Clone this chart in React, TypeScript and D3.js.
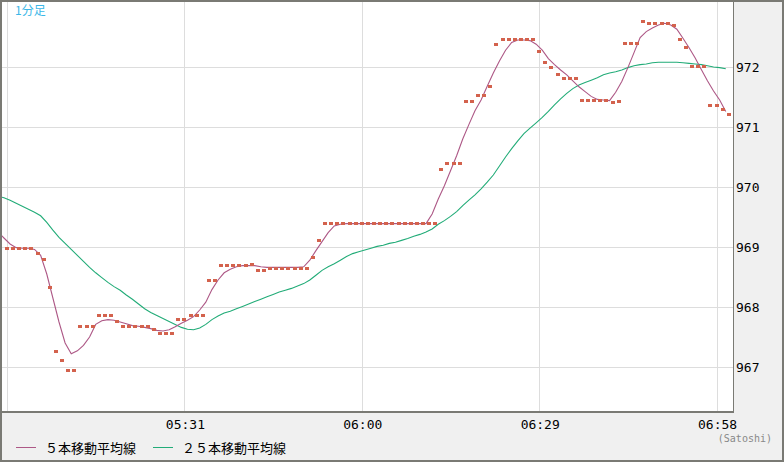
import * as d3 from "d3";

const W = 784;
const H = 462;

// minutes since midnight of the first bar (05:02)
const START = 302;

const prices = [
  968.98, 968.98, 968.98, 968.98, 968.98, 968.9, 968.79, 968.33, 967.26, 967.11,
  966.94, 966.94, 967.67, 967.67, 967.67, 967.86, 967.86, 967.86, 967.76, 967.68,
  967.68, 967.68, 967.68, 967.68, 967.63, 967.56, 967.56, 967.56, 967.79, 967.79,
  967.86, 967.86, 967.86, 968.44, 968.44, 968.69, 968.69, 968.69, 968.69, 968.69,
  968.71, 968.61, 968.61, 968.64, 968.64, 968.64, 968.64, 968.64, 968.64, 968.64,
  968.82, 969.1, 969.39, 969.39, 969.39, 969.39, 969.39, 969.39, 969.39, 969.39,
  969.39, 969.39, 969.39, 969.39, 969.39, 969.39, 969.39, 969.39, 969.39, 969.39,
  969.39, 970.3, 970.39, 970.39, 970.39, 971.43, 971.43, 971.53, 971.53, 971.68,
  972.38, 972.45, 972.45, 972.45, 972.45, 972.45, 972.45, 972.26, 972.07, 972.0,
  971.88, 971.81, 971.81, 971.81, 971.44, 971.44, 971.44, 971.44, 971.44, 971.41,
  971.43, 972.39, 972.39, 972.39, 972.76, 972.73, 972.73, 972.73, 972.73, 972.69,
  972.46, 972.33, 972.01, 972.01, 972.01, 971.35, 971.35, 971.3, 971.2,
];

// moving averages, first value belongs to 05:01
const ma5 = [
  969.25, 969.15, 969.05, 968.99, 968.98, 968.98, 968.96, 968.86, 968.55, 968.15,
  967.75, 967.4, 967.22, 967.27, 967.36, 967.5, 967.71, 967.77, 967.79, 967.78,
  967.75, 967.72, 967.69, 967.68, 967.66, 967.64, 967.61, 967.6, 967.62, 967.67,
  967.73, 967.78, 967.84, 967.95, 968.08, 968.29, 968.45, 968.57, 968.63, 968.67,
  968.69, 968.69, 968.69, 968.67, 968.66, 968.66, 968.66, 968.66, 968.66, 968.66,
  968.67, 968.78, 968.94, 969.09, 969.24, 969.35, 969.38, 969.39, 969.39, 969.39,
  969.39, 969.39, 969.39, 969.39, 969.39, 969.39, 969.39, 969.39, 969.39, 969.39,
  969.39, 969.55, 969.8, 970.02, 970.27, 970.52, 970.8, 971.04, 971.27, 971.45,
  971.68, 971.9, 972.1, 972.28, 972.41, 972.45, 972.45, 972.44, 972.38, 972.28,
  972.14, 972.04, 971.95, 971.87, 971.77, 971.67, 971.59, 971.51, 971.46, 971.45,
  971.44, 971.58, 971.76, 971.99, 972.24, 972.49, 972.59, 972.65, 972.7, 972.73,
  972.7, 972.63, 972.48, 972.32, 972.15, 971.96, 971.77, 971.6, 971.45, 971.26,
];

const ma25 = [
  969.85, 969.82, 969.78, 969.73, 969.68, 969.63, 969.58, 969.52, 969.41, 969.28,
  969.16, 969.06, 968.96, 968.86, 968.76, 968.66, 968.57, 968.49, 968.41, 968.34,
  968.28, 968.2, 968.13, 968.05, 967.97, 967.91, 967.86, 967.81, 967.76, 967.71,
  967.66, 967.63, 967.62, 967.65, 967.71, 967.79, 967.85, 967.9, 967.93, 967.97,
  968.01, 968.05, 968.09, 968.13, 968.17, 968.21, 968.25, 968.28, 968.31, 968.35,
  968.39, 968.45, 968.53, 968.61, 968.67, 968.72, 968.78, 968.84, 968.89, 968.92,
  968.95, 968.98, 969.01, 969.03, 969.06, 969.08, 969.11, 969.14, 969.18, 969.21,
  969.25, 969.3, 969.38, 969.44, 969.51, 969.59, 969.69, 969.78, 969.87, 969.97,
  970.08, 970.2, 970.35, 970.5, 970.64, 970.77, 970.89, 970.98, 971.07, 971.16,
  971.26, 971.37, 971.47, 971.56, 971.64, 971.7, 971.74, 971.78, 971.82, 971.87,
  971.9, 971.92, 971.95, 971.99, 972.02, 972.04, 972.05, 972.07, 972.08, 972.08,
  972.08, 972.08, 972.07, 972.06, 972.05, 972.04, 972.02, 972.0, 971.99, 971.97,
];

const yTicks = [967, 968, 969, 970, 971, 972];
const xGridTimes = [302, 331, 360, 389, 418];
const xLabels = ["", "05:31", "06:00", "06:29", "06:58"];
const legendNames = ["５本移動平均線", "２５本移動平均線"];

const PLOT = { left: 2, top: 2, right: 733, bottom: 411 };
const C_PRICE = "#d3624d";
const C_MA5 = "#ad5886";
const C_MA25 = "#22ac78";
const MONO = "'DejaVu Sans Mono', monospace";
const JP = "'Noto Sans CJK JP', sans-serif";

const App = () => {
  const x = d3.scaleLinear().domain([START, START + 118.68]).range([7, 733]);
  const y = d3.scaleLinear().domain([967, 972]).range([367, 67]);

  // MA points are drawn half a minute before the bar
  const maLine = d3
    .line<number>()
    .x((_, i) => x(START - 1 + i - 0.5))
    .y((d) => y(d));

  return (
    <svg
      width={W}
      height={H}
      style={{ position: "absolute", left: 0, top: 0 }}
    >
      <defs>
        <clipPath id="plot">
          <rect
            x={PLOT.left}
            y={PLOT.top}
            width={PLOT.right - PLOT.left}
            height={PLOT.bottom - PLOT.top}
          />
        </clipPath>
      </defs>
      <rect x={0} y={0} width={W} height={H} fill="#f0f0f0" />
      <rect
        x={PLOT.left}
        y={PLOT.top}
        width={PLOT.right - PLOT.left}
        height={PLOT.bottom - PLOT.top}
        fill="#fff"
      />

      {/* grid */}
      <g shapeRendering="crispEdges" stroke="#dddddd" strokeWidth={1}>
        {yTicks.map((t) => (
          <line
            key={t}
            x1={PLOT.left}
            x2={PLOT.right}
            y1={Math.round(y(t)) + 0.5}
            y2={Math.round(y(t)) + 0.5}
          />
        ))}
        {xGridTimes.map((t) => (
          <line
            key={t}
            x1={Math.round(x(t)) + 0.5}
            x2={Math.round(x(t)) + 0.5}
            y1={PLOT.top}
            y2={PLOT.bottom}
          />
        ))}
      </g>

      <g clipPath="url(#plot)">
        <path
          d={maLine(ma25) || ""}
          fill="none"
          stroke={C_MA25}
          strokeWidth={1.1}
        />
        <path
          d={maLine(ma5) || ""}
          fill="none"
          stroke={C_MA5}
          strokeWidth={1.1}
        />
        <g fill={C_PRICE} shapeRendering="crispEdges">
          {prices.map((p, i) => (
            <rect
              key={i}
              x={Math.round(x(START + i) - 2)}
              y={Math.round(y(p) - 1.5)}
              width={4}
              height={3}
            />
          ))}
        </g>
      </g>

      {/* borders */}
      <g shapeRendering="crispEdges" fill="#7a7a74">
        <rect x={0} y={0} width={W} height={2} />
        <rect x={0} y={0} width={2} height={H} />
        <rect x={W - 2} y={0} width={2} height={H} />
        <rect x={0} y={H - 2} width={W} height={2} />
        <rect x={PLOT.right} y={0} width={1} height={PLOT.bottom} />
        <rect x={0} y={PLOT.bottom} width={PLOT.right + 1} height={2} />
      </g>

      <text x={15} y={15} fill="#3bb7e8" fontSize={12} fontFamily={JP}>
        1分足
      </text>

      {/* axis labels */}
      <g fontFamily={MONO} fontSize={13} fill="#000">
        {yTicks.map((t) => (
          <text key={t} x={736} y={y(t) + 5}>
            {t}
          </text>
        ))}
        {xGridTimes.map((t, i) =>
          xLabels[i] ? (
            <text key={t} x={x(t) + 1} y={429} textAnchor="middle">
              {xLabels[i]}
            </text>
          ) : null
        )}
      </g>
      <text
        x={772}
        y={442}
        textAnchor="end"
        fontFamily={MONO}
        fontSize={10}
        fill="#888"
      >
        (Satoshi)
      </text>

      {/* legend */}
      <g fontFamily={JP} fontSize={13} fill="#000">
        <line x1={16} x2={36} y1={447.5} y2={447.5} stroke={C_MA5} />
        <text x={45} y={453}>
          {legendNames[0]}
        </text>
        <line x1={153} x2={173} y1={447.5} y2={447.5} stroke={C_MA25} />
        <text x={182} y={453}>
          {legendNames[1]}
        </text>
      </g>
    </svg>
  );
};

export default App;
